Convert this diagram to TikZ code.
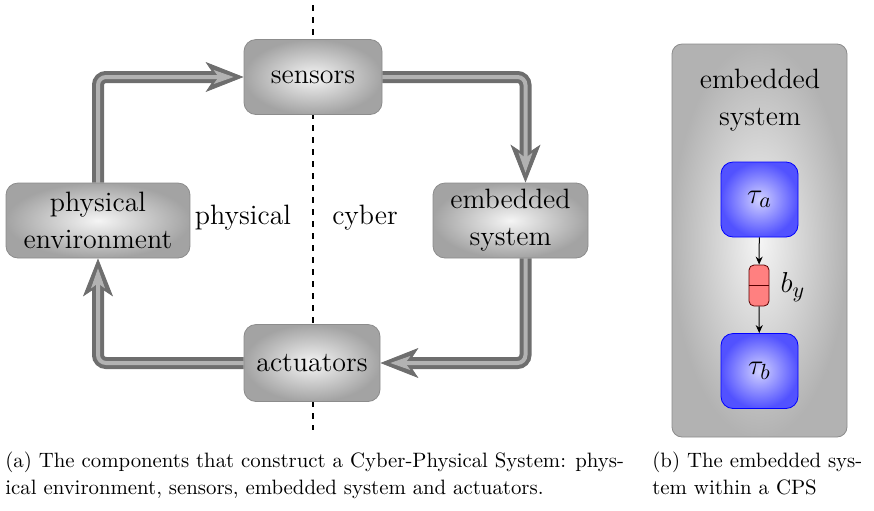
\documentclass[tikz,border=0pt]{standalone}
\usetikzlibrary{arrows.meta}
\begin{document}
\begin{tikzpicture}[x=0.5pt,y=-0.5pt,
  boxfont/.style={font=\fontsize{14}{18.5}\selectfont},
  capfont/.style={font=\fontsize{10.4}{13.5}\selectfont},
  comp/.style={rectangle, rounded corners=6pt, draw=black!45, line width=0.4pt,
    inner color=black!4, outer color=black!36, inner sep=0pt, align=center, boxfont},
  flow/.style={draw=black!57, line width=6pt, rounded corners=4pt,
    -{Stealth[length=19pt,width=15pt,inset=5pt,line width=0.4pt]},
    postaction={draw=black!30, line width=2pt, rounded corners=4pt,
      -{Stealth[length=10pt,width=7pt,inset=2.6pt,line width=0.4pt]}, shorten >=5pt}},
  panel/.style={rectangle, rounded corners=5pt, draw=black!45, line width=0.4pt,
    inner color=black!4, outer color=black!30, inner sep=0pt},
  task/.style={rectangle, rounded corners=6pt, draw=blue, line width=0.4pt,
    inner color=blue!18, outer color=blue!68, inner sep=0pt,
    minimum width=38.5pt, minimum height=37.5pt, font=\fontsize{15}{18}\selectfont},
  buffer/.style={rectangle, rounded corners=2.5pt, draw=red!35!black, line width=0.4pt,
    fill=red!50, inner sep=0pt, minimum width=10pt, minimum height=20.5pt},
  link/.style={draw=black, line width=0.5pt, -{Stealth[length=4pt,width=3.5pt]}},
  divider/.style={draw=black, dashed, line width=0.7pt, dash pattern=on 3pt off 3pt},
]
\useasboundingbox (0,0) rectangle (874,510);

% boundary between the physical and the cyber side
\coordinate (dtop) at (313,5);
\coordinate (dbot) at (313,430);
\draw[divider] (dtop) -- (dbot);

% components of the loop
\node[comp, minimum width=69pt, minimum height=37.5pt] (sensors) at (313,77) {sensors};
\node[comp, minimum width=92pt, minimum height=37.5pt] (penv) at (98,220.5) {physical\\environment};
\node[comp, minimum width=77.5pt, minimum height=37.5pt] (esys) at (510.5,220.5) {embedded\\system};
\node[comp, minimum width=68pt, minimum height=38.5pt] (act) at (312,363) {actuators};

\node[boxfont] (lphys) at (243,218) {physical};
\node[boxfont] (lcyb) at (365,218) {cyber};

% control loop
\draw[flow] (penv.north) |- (sensors.west);
\draw[flow] (sensors.east) -| ([xshift=7.5pt]esys.north);
\draw[flow] ([xshift=7.5pt]esys.south) |- (act.east);
\draw[flow] (act.west) -| (penv.south);

% inside the embedded system
\node[panel, minimum width=87.5pt, minimum height=196.5pt] (emb) at (759.5,240.5) {};
\node[boxfont, align=center] (embt) at (760,100) {embedded\\system};
\node[task] (ta) at (759.5,199.5) {$\tau_a$};
\node[task] (tb) at (759.5,371) {$\tau_b$};
\node[buffer] (by) at (759,285.5) {};
\draw[draw=red!35!black, line width=0.4pt] (by.west) -- (by.east);
\node[font=\fontsize{15}{18}\selectfont] (byl) at (793,287) {$b_y$};
\draw[link] (ta) -- (by);
\draw[link] (by) -- (tb);

% captions
\node[capfont, anchor=base west, inner sep=0pt] (capa1) at (5,467) {(a) The components that construct a Cyber-Physical System: phys-};
\node[capfont, anchor=base west, inner sep=0pt] (capa2) at (5,494) {ical environment, sensors, embedded system and actuators.};
\node[capfont, anchor=base west, inner sep=0pt] (capb1) at (652,467) {(b) The embedded sys-};
\node[capfont, anchor=base west, inner sep=0pt] (capb2) at (652,494) {tem within a CPS};
\end{tikzpicture}
\end{document}
